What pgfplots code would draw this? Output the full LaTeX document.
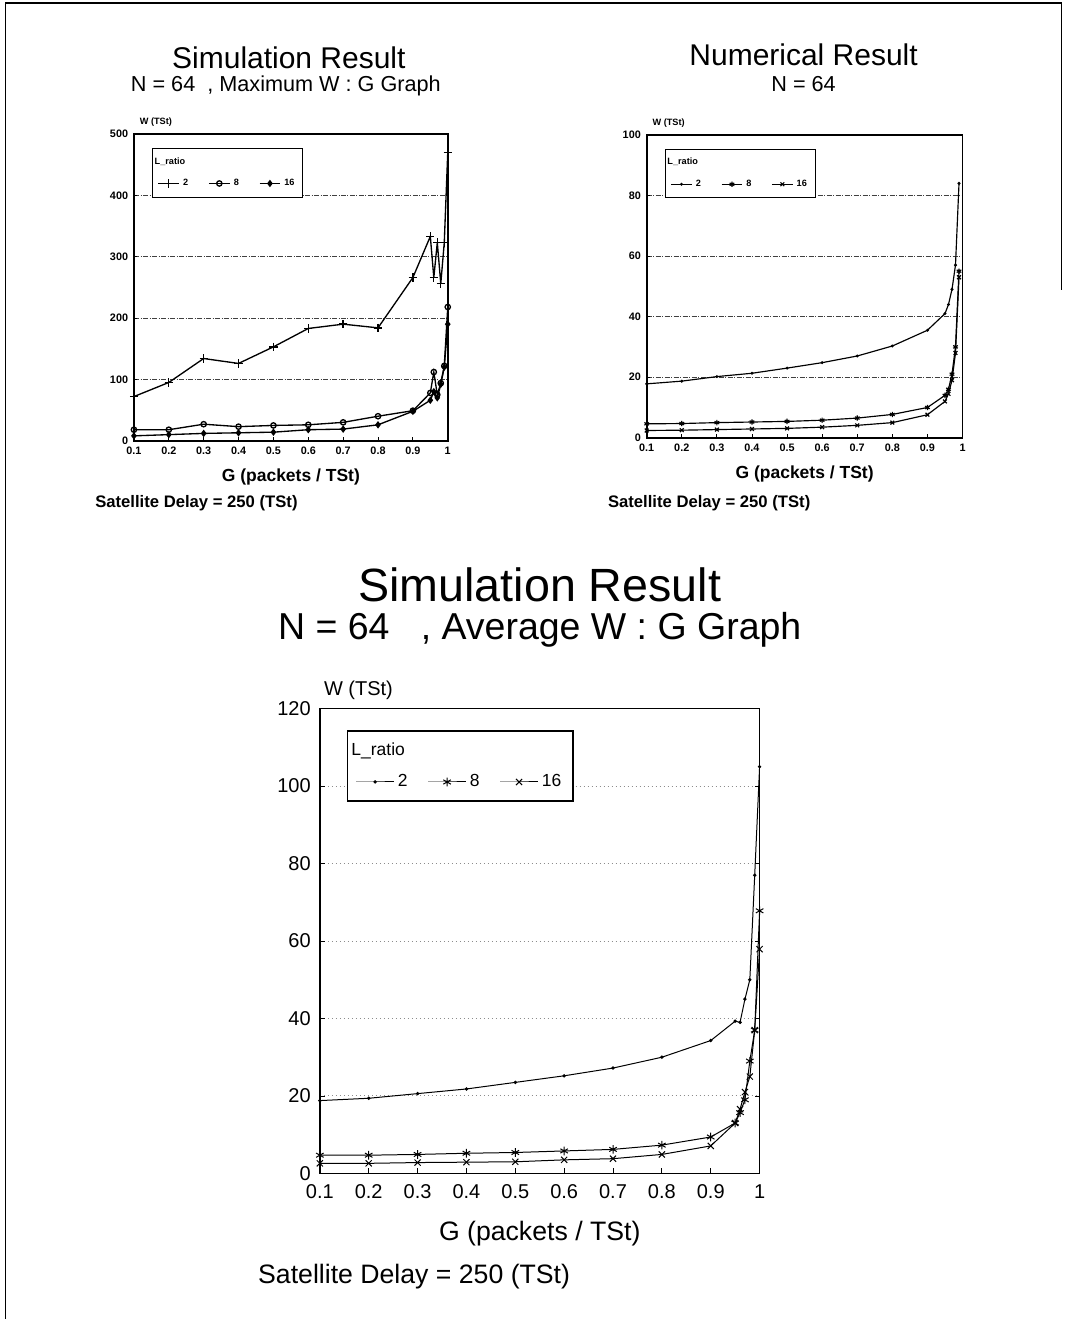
\documentclass[border=0pt]{standalone}
\usepackage{pgfplots}
\pgfplotsset{compat=1.18}
\usepackage{fontspec}
\setmainfont{Liberation Sans}
\newcommand{\fs}[1]{\fontsize{#1}{#1}\selectfont}
\pgfplotsset{
  /pgf/number format/assume math mode=true,
  smallax/.style={
    scale only axis, xmin=0.1, xmax=1,
    xtick={0.1,0.2,0.3,0.4,0.5,0.6,0.7,0.8,0.9,1},
    xticklabels={0.1,0.2,0.3,0.4,0.5,0.6,0.7,0.8,0.9,1},
    tick label style={font=\bfseries\fs{6.5}},
    axis line style={line width=1.1pt},
    tick style={black, line width=0.5pt},
    tick align=inside, xtick pos=bottom, ytick pos=left,
    major tick length=2pt,
    ymajorgrids, grid style={densely dashdotted, line width=0.5pt, black!75},
    xlabel style={at={(axis description cs:0.5,0)}, anchor=center, yshift=-22pt, font=\bfseries\fs{10.5}},
    ylabel style={at={(axis description cs:0,1)}, rotate=-90, anchor=south west, yshift=1pt, xshift=0pt, font=\bfseries\fs{5.5}},
    legend columns=3,
    legend cell align=left,
    legend style={at={(0.058,0.955)}, anchor=north west, font=\bfseries\fs{5.5}, line width=0.6pt, inner xsep=3pt, inner ysep=3.5pt,
      /tikz/every even column/.append style={column sep=10pt}, row sep=3.5pt},
    legend image code/.code={\draw[mark repeat=2,mark phase=2] plot coordinates {(0cm,0cm) (0.22cm,0cm) (0.44cm,0cm)};},
  },
}
\begin{document}
\begin{tikzpicture}
\path (0,0) rectangle (639pt,792pt);
% page frame
\draw[line width=0.8pt] (637.2pt,618pt) -- (637.2pt,790.2pt) -- (3.3pt,790.2pt) -- (3.3pt,0pt);

% titles
\node at (173.4pt,757.2pt) {\fs{18}Simulation Result};
\node at (171.6pt,740.4pt) {\fs{13}N = 64\ \ , Maximum W : G Graph};
\node at (482.4pt,759pt) {\fs{18}Numerical Result};
\node at (482.4pt,741.6pt) {\fs{13}N = 64};
\node at (324pt,441pt) {\fs{28}Simulation Result};
\node at (324pt,414pt) {\fs{22.5}N = 64\ \ \ , Average W : G Graph};
\node[anchor=west, inner sep=0pt] at (57pt,490.2pt) {\bfseries\fs{10}Satellite Delay = 250 (TSt)};
\node[anchor=west, inner sep=0pt] at (364.8pt,490.2pt) {\bfseries\fs{10}Satellite Delay = 250 (TSt)};
\node[anchor=west, inner sep=0pt] at (154.8pt,25.8pt) {\fs{16}Satellite Delay = 250 (TSt)};

% ---------- top left ----------
\begin{axis}[smallax, at={(80.4pt,527.4pt)}, anchor=south west,
  width=188.4pt, height=184.2pt,
  ymin=0, ymax=500, ytick={0,100,200,300,400,500},
  xlabel={G (packets / TSt)}, ylabel={W (TSt)}]
\addlegendimage{empty legend}\addlegendentry{\makebox[0pt][l]{\hspace{-0.6cm}L\_ratio}}
\addlegendimage{empty legend}\addlegendentry{\mbox{}}
\addlegendimage{empty legend}\addlegendentry{\mbox{}}
\addplot[black, line width=0.8pt, mark=+, mark size=2.5pt] coordinates {
(0.1,72) (0.2,95) (0.3,134) (0.4,126) (0.5,153) (0.6,183) (0.7,190) (0.8,184) (0.9,266) (0.95,333) (0.96,266) (0.97,323) (0.98,256) (0.99,323) (1.0,470)};
\addlegendentry{2}
\addplot[black, line width=0.8pt, mark=o, mark size=1.6pt] coordinates {
(0.1,18) (0.2,18) (0.3,27) (0.4,23) (0.5,25) (0.6,26) (0.7,30) (0.8,40) (0.9,49) (0.95,78) (0.96,112) (0.97,75) (0.98,94) (0.99,122) (1.0,218)};
\addlegendentry{8}
\addplot[black, line width=0.8pt, mark=diamond*, mark size=1.6pt] coordinates {
(0.1,8) (0.2,10) (0.3,12) (0.4,13) (0.5,14) (0.6,18) (0.7,19) (0.8,26) (0.9,48) (0.95,66) (0.96,80) (0.97,70) (0.98,92) (0.99,120) (1.0,190)};
\addlegendentry{16}
\end{axis}

% ---------- top right ----------
\begin{axis}[smallax, at={(388.2pt,529.2pt)}, anchor=south west,
  width=189.6pt, height=181.8pt,
  ymin=0, ymax=100, ytick={0,20,40,60,80,100},
  xlabel={G (packets / TSt)}, ylabel={W (TSt)}]
\addlegendimage{empty legend}\addlegendentry{\makebox[0pt][l]{\hspace{-0.6cm}L\_ratio}}
\addlegendimage{empty legend}\addlegendentry{\mbox{}}
\addlegendimage{empty legend}\addlegendentry{\mbox{}}
\addplot[black, line width=0.7pt, mark=*, mark size=0.5pt] coordinates {
(0.1,17.8) (0.2,18.7) (0.3,20.2) (0.4,21.3) (0.5,23) (0.6,24.8) (0.7,27) (0.8,30.3) (0.9,35.5) (0.95,41) (0.96,44) (0.97,49) (0.98,57) (0.99,84)};
\addlegendentry{2}
\addplot[black, line width=0.7pt, mark=asterisk, mark size=1.6pt] coordinates {
(0.1,4.6) (0.2,4.7) (0.3,5) (0.4,5.2) (0.5,5.4) (0.6,5.8) (0.7,6.5) (0.8,7.7) (0.9,10) (0.95,14) (0.96,16) (0.97,21) (0.98,30) (0.99,55)};
\addlegendentry{8}
\addplot[black, line width=0.7pt, mark=x, mark size=1.6pt] coordinates {
(0.1,2.4) (0.2,2.5) (0.3,2.7) (0.4,2.9) (0.5,3.1) (0.6,3.5) (0.7,4.1) (0.8,5) (0.9,7.6) (0.95,12) (0.96,14.5) (0.97,19) (0.98,28) (0.99,53)};
\addlegendentry{16}
\end{axis}

% ---------- bottom ----------
\begin{axis}[scale only axis, at={(192pt,87.6pt)}, anchor=south west,
  width=264pt, height=279pt,
  xmin=0.1, xmax=1, ymin=0, ymax=120,
  xtick={0.1,0.2,0.3,0.4,0.5,0.6,0.7,0.8,0.9,1},
  xticklabels={0.1,0.2,0.3,0.4,0.5,0.6,0.7,0.8,0.9,1},
  ytick={0,20,40,60,80,100,120},
  tick label style={font=\fs{12}},
  xticklabel style={yshift=-3pt},
  yticklabel style={xshift=-2pt},
  axis line style={line width=0.8pt},
  tick style={black, line width=0.5pt},
  tick align=inside, xtick pos=bottom,
  major tick length=3pt,
  ymajorgrids, grid style={dotted, line width=0.6pt, black!45},
  xlabel={G (packets / TSt)}, ylabel={W (TSt)},
  xlabel style={at={(axis description cs:0.5,0)}, anchor=center, yshift=-36pt, font=\fs{16}},
  ylabel style={at={(axis description cs:0,1)}, rotate=-90, anchor=south west, yshift=2pt, xshift=-1pt, font=\fs{12}},
  legend columns=3, legend cell align=left,
  legend style={at={(0.061,0.953)}, anchor=north west, font=\fs{10.5}, line width=0.8pt, inner xsep=5pt, inner ysep=5pt,
    /tikz/every even column/.append style={column sep=10pt}, row sep=6pt},
  legend image code/.code={\draw[mark repeat=2,mark phase=2] plot coordinates {(0cm,0cm) (0.4cm,0cm) (0.8cm,0cm)};},
]
\addlegendimage{empty legend}\addlegendentry{\makebox[0pt][l]{\hspace{-0.98cm}L\_ratio}}
\addlegendimage{empty legend}\addlegendentry{\mbox{}}
\addlegendimage{empty legend}\addlegendentry{\mbox{}}
\addplot[black, line width=0.6pt, mark=*, mark size=0.7pt] coordinates {
(0.1,18.8) (0.2,19.4) (0.3,20.6) (0.4,21.8) (0.5,23.5) (0.6,25.2) (0.7,27.2) (0.8,30) (0.9,34.3) (0.95,39.3) (0.96,39) (0.97,45) (0.98,50) (0.99,77) (1.0,105)};
\addlegendentry{2}
\addplot[black, line width=0.6pt, mark=asterisk, mark size=2.6pt] coordinates {
(0.1,4.7) (0.2,4.7) (0.3,4.9) (0.4,5.2) (0.5,5.4) (0.6,5.8) (0.7,6.2) (0.8,7.3) (0.9,9.4) (0.95,13) (0.96,15.7) (0.97,19) (0.98,29) (0.99,37) (1.0,67.8)};
\addlegendentry{8}
\addplot[black, line width=0.6pt, mark=x, mark size=2.6pt] coordinates {
(0.1,2.6) (0.2,2.6) (0.3,2.8) (0.4,2.9) (0.5,3.0) (0.6,3.5) (0.7,3.8) (0.8,4.9) (0.9,7.1) (0.95,13) (0.96,16.6) (0.97,21) (0.98,25) (0.99,37) (1.0,57.9)};
\addlegendentry{16}
\end{axis}
\end{tikzpicture}
\end{document}
